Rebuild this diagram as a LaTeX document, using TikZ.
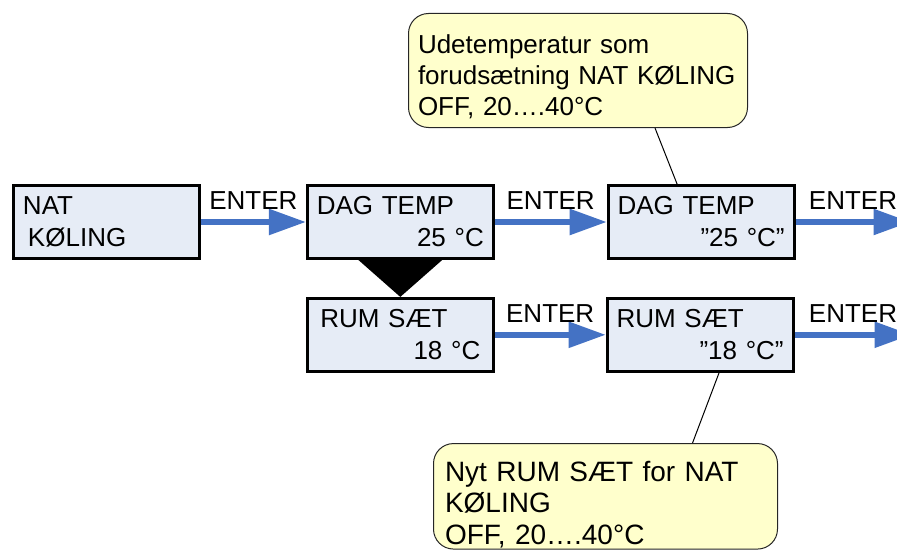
\documentclass[tikz,border=0pt]{standalone}
\usepackage{fontspec}
\setmainfont{Liberation Sans}
\usepackage{xcolor}
\usetikzlibrary{calc, positioning, arrows.meta}

\definecolor{panelfill}{RGB}{230,236,246}
\definecolor{notefill}{RGB}{255,255,204}
\definecolor{flowblue}{RGB}{68,114,196}

\begin{document}
\begin{tikzpicture}[
		x=1pt, y=-1pt,
		panel/.style={draw, line width=2.8pt, fill=panelfill, rectangle, minimum width=186pt, minimum height=73pt, inner xsep=9.5pt, text width=167pt, align=left, font=\fontsize{26}{32}\selectfont},
		note/.style={draw=black!85, line width=1pt, fill=notefill, rounded corners=20pt, inner ysep=0pt, align=left},
		flow/.style={draw=flowblue, line width=5.5pt, -{Triangle[length=37pt, width=25pt]}},
		enter/.style={midway, anchor=base, yshift=12.5pt, font=\fontsize{26}{32}\selectfont},
		tie/.style={draw, line width=1pt}
	]
	\useasboundingbox (0,0) rectangle (897,551);

	\node[panel] (nat) at (106.5,222) {NAT\\\hspace*{5pt}KØLING};
	\node[panel, right=105pt of nat] (dag1) {DAG TEMP\\\hspace*{\fill}25 °C};
	\node[panel, right=112pt of dag1] (dag2) {DAG TEMP\\\hspace*{\fill}”25 °C”\hspace*{9pt}};
	\node[panel, below=37pt of dag1, inner xsep=13pt, text width=160pt] (rum1) {RUM SÆT\\\hspace*{\fill}18 °C};
	\node[panel, below=37pt of dag2, xshift=-1pt] (rum2) {RUM SÆT\\\hspace*{\fill}”18 °C”\hspace*{9pt}};

	\node[note, minimum width=339pt, minimum height=114pt, inner xsep=9.5pt, text width=320pt, font=\fontsize{26}{31}\selectfont] (ude) at (578,70.5)
		{\rule{0pt}{31pt}Udetemperatur som\\forudsætning NAT KØLING\\OFF, 20….40°C};
	\node[note, minimum width=344pt, minimum height=105.5pt, inner xsep=11.5pt, text width=321pt, font=\fontsize{28}{31.5}\selectfont] (nyt) at (605.5,496.3)
		{\rule{0pt}{36.6pt}Nyt RUM SÆT for NAT\\KØLING\\OFF, 20….40°C};

	\coordinate (dagout) at ([xshift=115pt]dag2.east);
	\coordinate (rumout) at ([xshift=117pt]rum2.east);

	\fill ([xshift=-42pt]dag1.south) -- ([xshift=42pt]dag1.south) -- (rum1.north) -- cycle;

	\draw[flow] (nat) -- (dag1) node[enter] {ENTER};
	\draw[flow] (dag1) -- (dag2) node[enter] {ENTER};
	\draw[flow] (dag2) -- (dagout) node[enter] {ENTER};
	\draw[flow] (rum1) -- (rum2) node[enter] {ENTER};
	\draw[flow] (rum2) -- (rumout) node[enter] {ENTER};

	\draw[tie] ([xshift=77pt]ude.south) -- ([xshift=-24pt]dag2.north);
	\draw[tie] ([xshift=19pt]rum2.south) -- ([xshift=87pt]nyt.north);
\end{tikzpicture}
\end{document}
